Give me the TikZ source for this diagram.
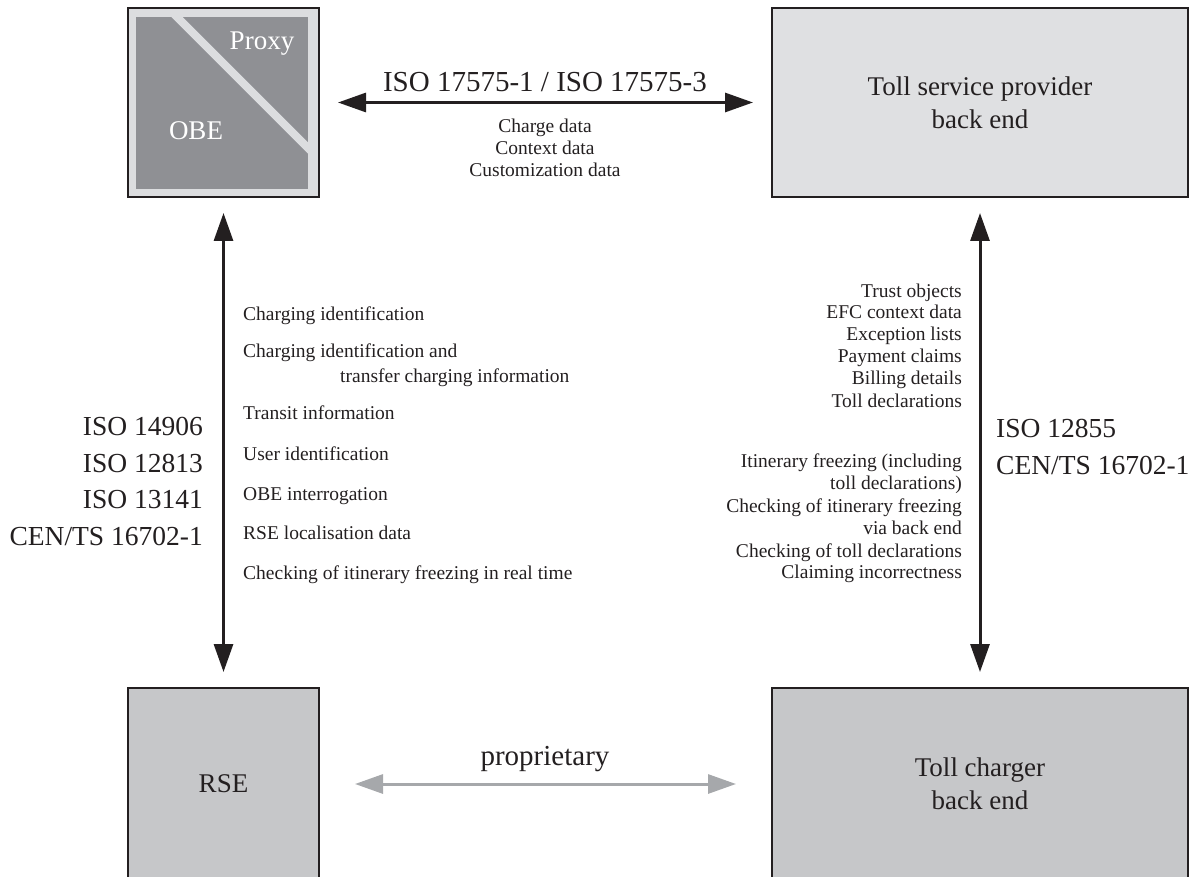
\documentclass[tikz,border=0pt]{standalone}
\usepackage{fontspec}
\setmainfont{Liberation Serif}
\usetikzlibrary{arrows.meta}
\newcommand\mystrut{\vrule height 0.85em depth 0.25em width 0pt}
\definecolor{ink}{HTML}{231F20}
\definecolor{obeframe}{HTML}{DCDDDF}
\definecolor{obecore}{HTML}{8F9094}
\definecolor{tspgray}{HTML}{DFE0E2}
\definecolor{tcgray}{HTML}{C6C7C9}
\definecolor{propgray}{HTML}{A6A8AB}

\begin{document}
\begin{tikzpicture}[x=1pt,y=-1pt,
  >={Triangle[length=28pt,width=19pt]},
  box/.style={
    draw=ink,
    line width=2pt,
    inner sep=0pt,
    align=center,
    text=ink,
    font=\fontsize{27}{33}\selectfont,
  },
  link/.style={draw=ink,line width=3pt,<->},
  biglabel/.style={text=ink,inner sep=0pt,font=\fontsize{27.5}{36}\selectfont},
  ]
  \useasboundingbox (0,0) rectangle (1193,877);

  % boxes
  \node[box,fill=obeframe,minimum width=191pt,minimum height=189pt] (obe) at (223.5,102.5) {};
  \node[box,fill=tspgray,minimum width=416pt,minimum height=189pt] (tsp) at (980,102.5)
    {Toll service provider\\back end};
  \node[box,fill=tcgray,minimum width=191pt,minimum height=192pt] (rse) at (223.5,784) {RSE};
  \node[box,fill=tcgray,minimum width=416pt,minimum height=192pt] (tcb) at (980,784)
    {Toll charger\\back end};

  % OBE with proxy part
  \fill[obecore] ([shift={(9,10)}]obe.north west) rectangle ([shift={(-12,-9)}]obe.south east);
  \begin{scope}
    \clip ([shift={(9,10)}]obe.north west) rectangle ([shift={(-12,-9)}]obe.south east);
    \draw[obeframe,line width=8pt] ([shift={(40,0)}]obe.north west) -- ([shift={(-2,-40)}]obe.south east);
  \end{scope}
  \node[text=white,font=\fontsize{27}{33}\selectfont] (proxy) at (262,44) {Proxy};
  \node[text=white,font=\fontsize{27}{33}\selectfont] (obetxt) at (196,131) {OBE};

  % connectors
  \draw[link,shorten <=18pt,shorten >=18pt] (obe) -- (tsp);
  \draw[link,shorten <=15pt,shorten >=15pt] (obe) -- (rse);
  \draw[link,shorten <=15pt,shorten >=15pt] (tsp) -- (tcb);
  \draw[link,draw=propgray,shorten <=35pt,shorten >=35pt] (rse) -- (tcb);

  % standards
  \node[biglabel,font=\fontsize{29}{36}\selectfont] (iso175) at (545,83) {\mystrut ISO 17575-1 / ISO 17575-3};
  \node[biglabel,font=\fontsize{29}{36}\selectfont] (prop) at (545,757) {\mystrut proprietary};
  \begin{scope}[every node/.style={biglabel,anchor=east}]
    \foreach[count=\i] \val/\ypos in
    {ISO 14906/427,ISO 12813/464,ISO 13141/500,{CEN/TS 16702-1}/537}
    {
      \node (lstd\i) at (203,\ypos) {\mystrut\val};
    }
  \end{scope}
  \begin{scope}[every node/.style={biglabel,anchor=west}]
    \foreach[count=\i] \val/\ypos in
    {ISO 12855/429,{CEN/TS 16702-1}/466}
    {
      \node (rstd\i) at (996,\ypos) {\mystrut\val};
    }
  \end{scope}

  % data items
  \begin{scope}[
    every node/.style={
      text=ink,
      inner sep=0pt,
      font=\fontsize{19.5}{22}\selectfont,
    },
    ]
    \foreach[count=\i] \val/\ypos in
    {Charge data/127,Context data/149,Customization data/171}
    {
      \node (top\i) at (545,\ypos) {\mystrut\val};
    }
    \foreach[count=\i] \val/\xpos/\ypos in
    {Charging identification/243/315,Charging identification and/243/352,
     transfer charging information/340/377,Transit information/243/414,
     User identification/243/455,OBE interrogation/243/495,
     RSE localisation data/243/534,Checking of itinerary freezing in real time/243/574}
    {
      \node[anchor=west] (lft\i) at (\xpos,\ypos) {\mystrut\val};
    }
    \foreach[count=\i] \val/\ypos in
    {Trust objects/292,EFC context data/313,Exception lists/335,Payment claims/357,
     Billing details/379,Toll declarations/402,Itinerary freezing (including/462,
     toll declarations)/484,Checking of itinerary freezing/507,via back end/529,
     Checking of toll declarations/552,Claiming incorrectness/573}
    {
      \node[anchor=east] (rgt\i) at (962,\ypos) {\mystrut\val};
    }
  \end{scope}
\end{tikzpicture}
\end{document}
